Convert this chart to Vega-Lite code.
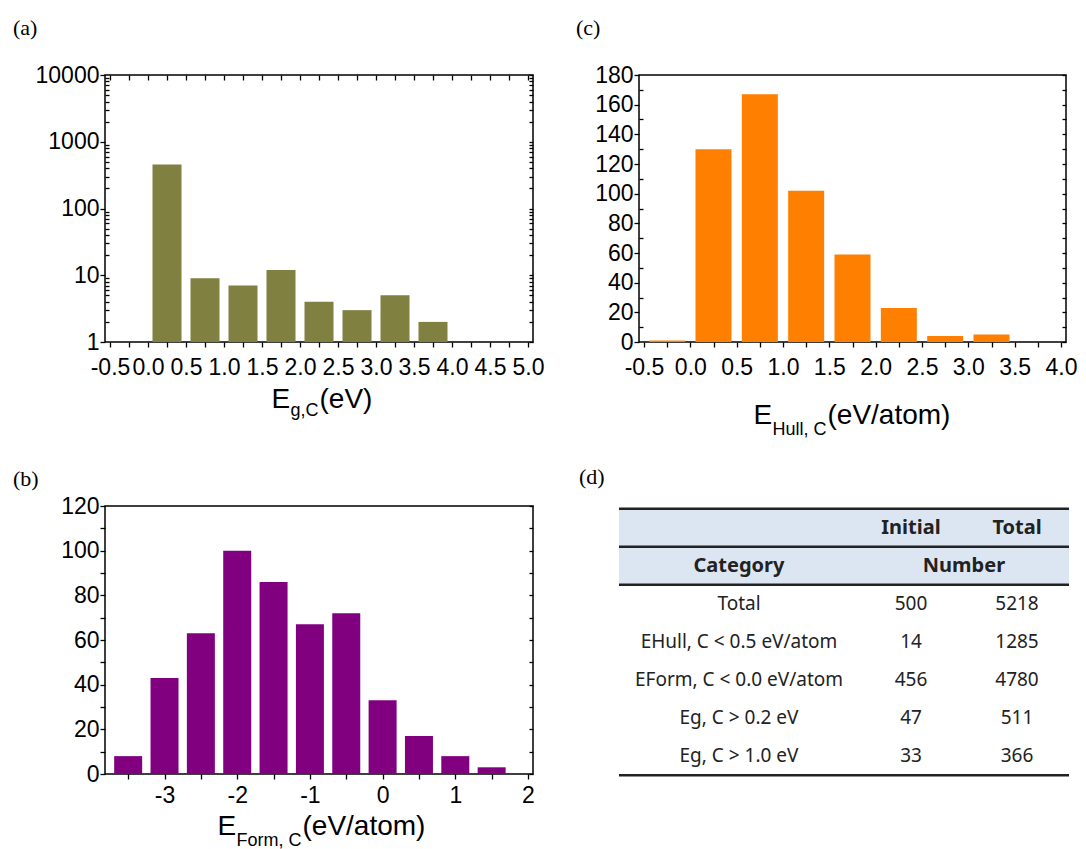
{
  "$schema": "https://vega.github.io/schema/vega-lite/v6.json",
  "background": "white",
  "padding": {"left": 12, "top": 16, "right": 5, "bottom": 5},
  "columns": 2,
  "bounds": "flush",
  "spacing": {"row": 164, "column": 106},
  "datasets": {
    "gap": [
      {"center": 0.25, "count": 458}, {"center": 0.75, "count": 9}, {"center": 1.25, "count": 7},
      {"center": 1.75, "count": 12}, {"center": 2.25, "count": 4}, {"center": 2.75, "count": 3},
      {"center": 3.25, "count": 5}, {"center": 3.75, "count": 2}
    ],
    "hull": [
      {"center": -0.25, "count": 1}, {"center": 0.25, "count": 130}, {"center": 0.75, "count": 167},
      {"center": 1.25, "count": 102}, {"center": 1.75, "count": 59}, {"center": 2.25, "count": 23},
      {"center": 2.75, "count": 4}, {"center": 3.25, "count": 5}
    ],
    "form": [
      {"center": -3.5, "count": 8}, {"center": -3.0, "count": 43}, {"center": -2.5, "count": 63},
      {"center": -2.0, "count": 100}, {"center": -1.5, "count": 86}, {"center": -1.0, "count": 67},
      {"center": -0.5, "count": 72}, {"center": 0.0, "count": 33}, {"center": 0.5, "count": 17},
      {"center": 1.0, "count": 8}, {"center": 1.5, "count": 3}
    ],
    "table": [
      {"row": 1, "category": "Total", "initial": 500, "total": 5218},
      {"row": 2, "category": "EHull, C < 0.5 eV/atom", "initial": 14, "total": 1285},
      {"row": 3, "category": "EForm, C < 0.0 eV/atom", "initial": 456, "total": 4780},
      {"row": 4, "category": "Eg, C > 0.2 eV", "initial": 47, "total": 511},
      {"row": 5, "category": "Eg, C > 1.0 eV", "initial": 33, "total": 366}
    ],
    "head": [
      {"label": "Initial", "col": 1, "row": -1},
      {"label": "Total", "col": 2, "row": -1},
      {"label": "Category", "col": 0, "row": 0},
      {"label": "Number", "col": 1.5, "row": 0}
    ],
    "lines": [{"y": -1.5}, {"y": -0.5}, {"y": 0.5}, {"y": 5.5}]
  },
  "concat": [
    {
      "width": 428, "height": 267,
      "title": {"text": "(a)", "anchor": "start", "frame": "group", "dx": -92, "offset": 7, "baseline": "alphabetic", "font": "Liberation Serif", "fontSize": 22, "fontWeight": "normal", "color": "black"},
      "data": {"name": "gap"},
      "resolve": {"axis": {"x": "independent", "y": "independent"}},
      "layer": [
        {
          "mark": {"type": "bar", "orient": "vertical", "width": 29, "color": "#808040"},
          "encoding": {
            "x": {"field": "center", "type": "quantitative", "scale": {"domain": [-0.5, 5], "nice": false, "zero": false},
              "axis": {"orient": "bottom", "values": [-0.5,-0.25,0,0.25,0.5,0.75,1,1.25,1.5,1.75,2,2.25,2.5,2.75,3,3.25,3.5,3.75,4,4.25,4.5,4.75,5],
                "labelExpr": "datum.value % 0.5 != 0 ? '' : (datum.value < 0 ? '-' + format(-datum.value, '.1f') : format(datum.value, '.1f'))",
                "tickSize": 5, "labelPadding": 9, "title": "E", "titleX": 166, "titleY": 65, "titleAlign": "left", "titleBaseline": "alphabetic", "titleFontSize": 28}},
            "y": {"field": "count", "type": "quantitative", "scale": {"type": "log", "domain": [1, 10000], "nice": false},
              "axis": {"orient": "left", "values": [1, 10, 100, 1000, 10000], "labelExpr": "format(datum.value, 'd')", "tickSize": 5, "title": null}},
            "y2": {"datum": 1}
          }
        },
        {
          "mark": {"type": "point", "opacity": 0},
          "encoding": {
            "x": {"field": "center", "type": "quantitative",
              "axis": {"orient": "top", "values": [-0.5,-0.25,0,0.25,0.5,0.75,1,1.25,1.5,1.75,2,2.25,2.5,2.75,3,3.25,3.5,3.75,4,4.25,4.5,4.75,5], "labels": false, "tickSize": -5, "title": null}},
            "y": {"field": "count", "type": "quantitative",
              "axis": {"orient": "right", "values": [1,2,3,4,5,6,7,8,9,10,20,30,40,50,60,70,80,90,100,200,300,400,500,600,700,800,900,1000,2000,3000,4000,5000,6000,7000,8000,9000,10000], "labels": false, "tickSize": -4, "title": null}}
          }
        },
        {
          "mark": {"type": "point", "opacity": 0},
          "encoding": {
            "x": {"field": "center", "type": "quantitative",
              "axis": {"orient": "bottom", "labels": false, "ticks": false, "title": "g,C", "titleX": 185, "titleY": 73, "titleAlign": "left", "titleBaseline": "alphabetic", "titleFontSize": 18}},
            "y": {"field": "count", "type": "quantitative",
              "axis": {"orient": "left", "values": [2,3,4,5,6,7,8,9,20,30,40,50,60,70,80,90,200,300,400,500,600,700,800,900,2000,3000,4000,5000,6000,7000,8000,9000], "labels": false, "tickSize": -4, "title": null}}
          }
        },
        {
          "mark": {"type": "point", "opacity": 0},
          "encoding": {
            "x": {"field": "center", "type": "quantitative",
              "axis": {"orient": "bottom", "labels": false, "ticks": false, "title": "(eV)", "titleX": 214, "titleY": 65, "titleAlign": "left", "titleBaseline": "alphabetic", "titleFontSize": 28}},
            "y": {"field": "count", "type": "quantitative", "axis": null}
          }
        }
      ]
    },
    {
      "width": 427, "height": 267,
      "title": {"text": "(c)", "anchor": "start", "frame": "group", "dx": -63, "offset": 7, "baseline": "alphabetic", "font": "Liberation Serif", "fontSize": 22, "fontWeight": "normal", "color": "black"},
      "data": {"name": "hull"},
      "resolve": {"axis": {"x": "independent", "y": "independent"}},
      "layer": [
        {
          "mark": {"type": "bar", "orient": "vertical", "width": 36, "color": "#ff8000"},
          "encoding": {
            "x": {"field": "center", "type": "quantitative", "scale": {"domain": [-0.5, 4], "nice": false, "zero": false},
              "axis": {"orient": "bottom", "values": [-0.5,-0.25,0,0.25,0.5,0.75,1,1.25,1.5,1.75,2,2.25,2.5,2.75,3,3.25,3.5,3.75,4],
                "labelExpr": "datum.value % 0.5 != 0 ? '' : (datum.value < 0 ? '-' + format(-datum.value, '.1f') : format(datum.value, '.1f'))",
                "tickSize": 5, "labelPadding": 9, "title": "E", "titleX": 114, "titleY": 81, "titleAlign": "left", "titleBaseline": "alphabetic", "titleFontSize": 28}},
            "y": {"field": "count", "type": "quantitative", "scale": {"domain": [0, 180], "nice": false},
              "axis": {"orient": "left", "values": [0,20,40,60,80,100,120,140,160,180], "labelExpr": "format(datum.value, 'd')", "tickSize": 5, "title": null}}
          }
        },
        {
          "mark": {"type": "point", "opacity": 0},
          "encoding": {
            "x": {"field": "center", "type": "quantitative",
              "axis": {"orient": "bottom", "labels": false, "ticks": false, "title": "Hull, C", "titleX": 133, "titleY": 92, "titleAlign": "left", "titleBaseline": "alphabetic", "titleFontSize": 18}},
            "y": {"field": "count", "type": "quantitative",
              "axis": {"orient": "right", "values": [0,10,20,30,40,50,60,70,80,90,100,110,120,130,140,150,160,170,180], "labels": false, "tickSize": -4, "title": null}}
          }
        },
        {
          "mark": {"type": "point", "opacity": 0},
          "encoding": {
            "x": {"field": "center", "type": "quantitative",
              "axis": {"orient": "bottom", "labels": false, "ticks": false, "title": "(eV/atom)", "titleX": 188, "titleY": 81, "titleAlign": "left", "titleBaseline": "alphabetic", "titleFontSize": 28}},
            "y": {"field": "count", "type": "quantitative",
              "axis": {"orient": "left", "values": [10,30,50,70,90,110,130,150,170], "labels": false, "tickSize": -4, "title": null}}
          }
        }
      ]
    },
    {
      "width": 428, "height": 268,
      "title": {"text": "(b)", "anchor": "start", "frame": "group", "dx": -92, "dy": 19, "offset": 6, "baseline": "alphabetic", "font": "Liberation Serif", "fontSize": 22, "fontWeight": "normal", "color": "black"},
      "data": {"name": "form"},
      "resolve": {"axis": {"x": "independent", "y": "independent"}},
      "layer": [
        {
          "mark": {"type": "bar", "orient": "vertical", "width": 28, "color": "#800080"},
          "encoding": {
            "x": {"field": "center", "type": "quantitative", "scale": {"domain": [-3.75, 2], "nice": false, "zero": false},
              "axis": {"orient": "bottom", "values": [-3.5,-3,-2.5,-2,-1.5,-1,-0.5,0,0.5,1,1.5,2],
                "labelExpr": "datum.value % 1 != 0 ? '' : (datum.value < 0 ? '-' + format(-datum.value, 'd') : format(datum.value, 'd'))",
                "tickSize": 5, "labelPadding": 5, "title": "E", "titleX": 112, "titleY": 60, "titleAlign": "left", "titleBaseline": "alphabetic", "titleFontSize": 28}},
            "y": {"field": "count", "type": "quantitative", "scale": {"domain": [0, 120], "nice": false},
              "axis": {"orient": "left", "values": [0,10,20,30,40,50,60,70,80,90,100,110,120], "labelExpr": "datum.value % 20 != 0 ? '' : format(datum.value, 'd')", "tickSize": 5, "title": null}}
          }
        },
        {
          "mark": {"type": "point", "opacity": 0},
          "encoding": {
            "x": {"field": "center", "type": "quantitative",
              "axis": {"orient": "bottom", "labels": false, "ticks": false, "title": "Form, C", "titleX": 131, "titleY": 71, "titleAlign": "left", "titleBaseline": "alphabetic", "titleFontSize": 18}},
            "y": {"field": "count", "type": "quantitative",
              "axis": {"orient": "right", "values": [0,10,20,30,40,50,60,70,80,90,100,110,120], "labels": false, "tickSize": -4, "title": null}}
          }
        },
        {
          "mark": {"type": "point", "opacity": 0},
          "encoding": {
            "x": {"field": "center", "type": "quantitative",
              "axis": {"orient": "bottom", "labels": false, "ticks": false, "title": "(eV/atom)", "titleX": 197, "titleY": 60, "titleAlign": "left", "titleBaseline": "alphabetic", "titleFontSize": 28}},
            "y": {"field": "count", "type": "quantitative", "axis": null}
          }
        }
      ]
    },
    {
      "width": 427, "height": 270,
      "view": {"stroke": null},
      "title": {"text": "(d)", "anchor": "start", "frame": "group", "dx": -60, "dy": 20, "offset": 20, "baseline": "alphabetic", "font": "Liberation Serif", "fontSize": 22, "fontWeight": "normal", "color": "black"},
      "layer": [
        {
          "data": {"values": [{}]},
          "mark": {"type": "rect", "color": "#dce6f2"},
          "encoding": {
            "x": {"datum": -1, "type": "quantitative", "scale": {"domain": [-1, 0, 1, 2, 3], "range": [-20, 100, 272, 378, 430], "nice": false, "zero": false}, "axis": null},
            "x2": {"datum": 3},
            "y": {"datum": -1.5, "type": "quantitative", "scale": {"domain": [-1.57, 5.52], "reverse": true, "nice": false, "zero": false}, "axis": null},
            "y2": {"datum": 0.5}
          }
        },
        {
          "data": {"name": "lines"},
          "mark": {"type": "rule", "color": "#222222", "strokeWidth": 2.5},
          "encoding": {
            "x": {"datum": -1, "type": "quantitative"},
            "x2": {"datum": 3},
            "y": {"field": "y", "type": "quantitative"}
          }
        },
        {
          "data": {"name": "head"},
          "mark": {"type": "text", "font": "Noto Sans", "fontWeight": "bold", "fontSize": 20, "color": "#222222"},
          "encoding": {
            "x": {"field": "col", "type": "quantitative"},
            "y": {"field": "row", "type": "quantitative"},
            "text": {"field": "label"}
          }
        },
        {
          "data": {"name": "table"},
          "mark": {"type": "text", "font": "Noto Sans", "fontSize": 19, "color": "#222222"},
          "encoding": {
            "x": {"datum": 0, "type": "quantitative"},
            "y": {"field": "row", "type": "quantitative"},
            "text": {"field": "category"}
          }
        },
        {
          "data": {"name": "table"},
          "mark": {"type": "text", "font": "Noto Sans", "fontSize": 19, "color": "#222222"},
          "encoding": {
            "x": {"datum": 1, "type": "quantitative"},
            "y": {"field": "row", "type": "quantitative"},
            "text": {"field": "initial"}
          }
        },
        {
          "data": {"name": "table"},
          "mark": {"type": "text", "font": "Noto Sans", "fontSize": 19, "color": "#222222"},
          "encoding": {
            "x": {"datum": 2, "type": "quantitative"},
            "y": {"field": "row", "type": "quantitative"},
            "text": {"field": "total"}
          }
        }
      ]
    }
  ],
  "config": {
    "view": {"stroke": "black", "strokeWidth": 1.5},
    "axis": {"grid": false, "domain": false, "tickColor": "black", "tickWidth": 1.3, "labelColor": "black", "titleColor": "black",
      "labelFont": "Liberation Sans", "labelFontSize": 23,
      "titleFont": "Liberation Sans", "titleFontWeight": "normal",
      "labelPadding": 1, "labelFlush": false, "labelOverlap": false, "labelBound": false}
  }
}
